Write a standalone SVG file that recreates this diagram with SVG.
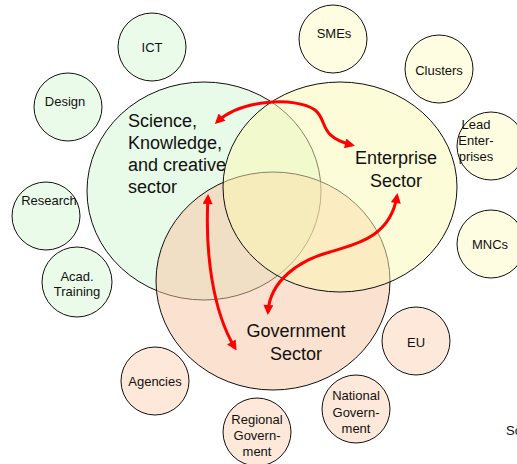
<svg xmlns="http://www.w3.org/2000/svg" width="517" height="464" viewBox="0 0 517 464">
<style>
text{font-family:"Liberation Sans",Arial,sans-serif;fill:#111;}
.s{font-size:13px;text-anchor:middle;}
.b{font-size:18px;}
.c{stroke:#111;stroke-width:1;}
.g{fill:#ebfbea;}
.y{fill:#fefde2;}
.o{fill:#fde8da;}
.big{fill-opacity:0.5;stroke:#111;stroke-width:1;}
.arr{fill:none;stroke:#f00;stroke-width:3;marker-start:url(#ah);marker-end:url(#ah);}
</style>
<defs>
<marker id="ah" viewBox="0 0 10 10" refX="7" refY="5" markerWidth="11" markerHeight="10" markerUnits="userSpaceOnUse" orient="auto-start-reverse">
<path d="M0,0 L10,5 L0,10 z" fill="#f00"/>
</marker>
</defs>
<rect width="517" height="464" fill="#fff"/>
<g id="science"><ellipse cx="204" cy="191" rx="117" ry="109" fill="#d1f5d1" class="big"/></g>
<g id="government"><ellipse cx="273" cy="281" rx="117" ry="109" fill="#f7c3a1" class="big"/></g>
<g id="enterprise"><ellipse cx="340" cy="187" rx="117" ry="105" fill="#fbf9b1" class="big"/></g>
<g id="science-label"><text class="b" x="128" y="127">Science,</text><text class="b" x="128" y="149">Knowledge,</text><text class="b" x="128" y="171">and creative</text><text class="b" x="128" y="193">sector</text></g>
<g id="enterprise-label"><text class="b" x="396" y="164" text-anchor="middle">Enterprise</text><text class="b" x="396" y="187" text-anchor="middle">Sector</text></g>
<g id="government-label"><text class="b" x="296" y="337" text-anchor="middle">Government</text><text class="b" x="296" y="360" text-anchor="middle">Sector</text></g>
<g id="ict"><circle cx="152" cy="47" r="34" class="c g"/><text class="s" x="152" y="52">ICT</text></g>
<g id="design"><circle cx="68" cy="107" r="34" class="c g"/><text class="s" x="65" y="106">Design</text></g>
<g id="research"><circle cx="46" cy="216" r="34" class="c g"/><text class="s" x="49" y="205">Research</text></g>
<g id="acad"><circle cx="77" cy="282" r="35" class="c g"/><text class="s" x="77" y="281">Acad.</text><text class="s" x="77" y="296">Training</text></g>
<g id="smes"><circle cx="333" cy="39" r="34" class="c y"/><text class="s" x="334" y="38">SMEs</text></g>
<g id="clusters"><circle cx="439" cy="69" r="34" class="c y"/><text class="s" x="439" y="75">Clusters</text></g>
<g id="lead"><circle cx="491" cy="146" r="34" class="c y"/><text class="s" x="476" y="129" text-anchor="start">Lead</text><text class="s" x="476" y="145" text-anchor="start">Enter-</text><text class="s" x="476" y="161" text-anchor="start">prises</text></g>
<g id="mncs"><circle cx="491" cy="244" r="34" class="c y"/><text class="s" x="490" y="249">MNCs</text></g>
<g id="eu"><circle cx="416" cy="341" r="34" class="c o"/><text class="s" x="416" y="347">EU</text></g>
<g id="agencies"><circle cx="155" cy="381" r="34" class="c o"/><text class="s" x="155" y="386">Agencies</text></g>
<g id="national"><circle cx="356" cy="409" r="34" class="c o"/><text class="s" x="356" y="400">National</text><text class="s" x="356" y="417">Govern-</text><text class="s" x="356" y="433">ment</text></g>
<g id="regional"><circle cx="257" cy="432" r="34" class="c o"/><text class="s" x="257" y="424">Regional</text><text class="s" x="257" y="440">Govern-</text><text class="s" x="257" y="456">ment</text></g>
<g id="connectors">
<path class="arr" d="M217 122 C240 100,295 96,315 110 C328 120,318 137,352 145"/>
<path class="arr" d="M208 197 C205 250,212 310,235 348"/>
<path class="arr" d="M397 196 C390 240,350 245,330 252 C300 260,270 280,268 312"/>
</g>
<text x="506" y="435" style="font-size:13px">Sc</text>
</svg>
